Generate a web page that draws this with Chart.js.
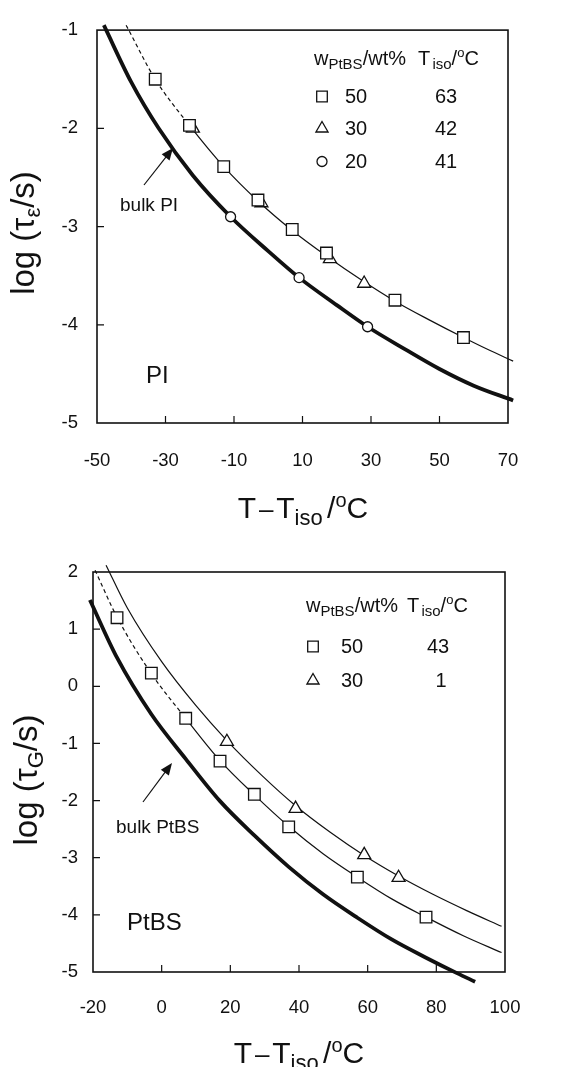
<!DOCTYPE html>
<html lang="en">
<head>
<meta charset="UTF-8">
<title>log tau vs T - Tiso</title>
<script src="https://cdn.jsdelivr.net/npm/chart.js"></script>
<style>
  body { margin: 0; background: #fff; }
  .panel { position: absolute; left: 0; width: 574px; }
  #top { top: 0; height: 540px; }
  #bottom { top: 540px; height: 527px; }
</style>
</head>
<body>
<div class="panel" id="top"><canvas id="piChart"></canvas></div>
<div class="panel" id="bottom"><canvas id="ptbsChart"></canvas></div>

<script>
    // upper panel (PI)
    const piXTicks = [-50, -30, -10, 10, 30, 50, 70];
    const piYTicks = [-5, -4, -3, -2, -1];
    const piSquareX = [-33, -23, -13, -3, 7, 17, 37, 57];
    const piSquareY = [-1.50, -1.97, -2.39, -2.73, -3.03, -3.27, -3.75, -4.13];
    const piTriangleX = [-22, -2, 18, 28];
    const piTriangleY = [-2.00, -2.76, -3.33, -3.58];
    const piCircleX = [-11, 9, 29];
    const piCircleY = [-2.90, -3.52, -4.02];
    const piBlendCurveX = [-41.5, -33, -23, -13, -3, 7, 17, 27, 37, 47, 57, 64, 71.5];
    const piBlendCurveY = [-0.95, -1.50, -1.97, -2.39, -2.74, -3.04, -3.30, -3.54, -3.76, -3.95, -4.13, -4.25, -4.37];
    const piBulkCurveX = [-48, -40, -32, -22, -11, 0, 9, 20, 29, 40, 50, 60, 71.5];
    const piBulkCurveY = [-0.95, -1.53, -2.00, -2.48, -2.90, -3.25, -3.52, -3.80, -4.02, -4.25, -4.45, -4.62, -4.77];
    const piDashedUpTo = -23;
    const piLegendRows = [['50', '63'], ['30', '42'], ['20', '41']];

    // lower panel (PtBS)
    const ptbsXTicks = [-20, 0, 20, 40, 60, 80, 100];
    const ptbsYTicks = [-5, -4, -3, -2, -1, 0, 1, 2];
    const ptbsSquareX = [-13, -3, 7, 17, 27, 37, 57, 77];
    const ptbsSquareY = [1.20, 0.23, -0.56, -1.31, -1.89, -2.46, -3.34, -4.04];
    const ptbsTriangleX = [19, 39, 59, 69];
    const ptbsTriangleY = [-0.97, -2.14, -2.95, -3.35];
    const ptbs50CurveX = [-19.4, -13, -3, 7, 17, 27, 37, 47, 57, 67, 77, 88, 99];
    const ptbs50CurveY = [2.03, 1.21, 0.22, -0.56, -1.30, -1.90, -2.45, -2.93, -3.34, -3.72, -4.04, -4.37, -4.66];
    const ptbs30CurveX = [-16.2, -10, 0, 10, 19, 29, 39, 49, 59, 69, 79, 89, 99];
    const ptbs30CurveY = [2.12, 1.37, 0.43, -0.34, -0.95, -1.55, -2.09, -2.55, -2.96, -3.32, -3.64, -3.93, -4.20];
    const ptbsBulkCurveX = [-20.9, -13, -3, 7, 17, 27, 37, 47, 57, 67, 77, 86, 91.3];
    const ptbsBulkCurveY = [1.51, 0.50, -0.49, -1.27, -2.01, -2.61, -3.16, -3.64, -4.05, -4.43, -4.75, -5.02, -5.17];
    const ptbsDashedUpTo = 7;
    const ptbsLegendRows = [['50', '43'], ['30', '1']];

    const FONT = '"Liberation Sans", Arial, sans-serif';
    const INK = '#111';
    Chart.defaults.font.family = FONT;
    Chart.defaults.color = INK;

    function pts(xs, ys) {
        return xs.map((x, i) => ({ x: x, y: ys[i] }));
    }

    function markerSet(xs, ys, style, r) {
        return {
            data: pts(xs, ys), showLine: false, pointStyle: style, pointRadius: r,
            pointBackgroundColor: '#fff', pointBorderColor: INK, pointBorderWidth: 1.3,
            order: 0, clip: false
        };
    }

    function curveSet(xs, ys, width, dashUpTo) {
        const ds = {
            data: pts(xs, ys), showLine: true, pointRadius: 0, borderColor: INK,
            borderWidth: width, cubicInterpolationMode: 'monotone', order: 1, clip: false
        };
        if (dashUpTo !== undefined) {
            ds.segment = { borderDash: c => c.p1.parsed.x <= dashUpTo ? [4, 3] : undefined };
        }
        return ds;
    }

    // text made of pieces: [text, size, dy]
    function drawParts(ctx, parts, x, y, align) {
        let w = 0;
        parts.forEach(p => { ctx.font = p[1] + 'px ' + FONT; w += ctx.measureText(p[0]).width; });
        let cx = align === 'center' ? x - w / 2 : x;
        ctx.textAlign = 'left';
        ctx.textBaseline = 'alphabetic';
        parts.forEach(p => {
            ctx.font = p[1] + 'px ' + FONT;
            ctx.fillText(p[0], cx, y + (p[2] || 0));
            cx += ctx.measureText(p[0]).width;
        });
    }

    function drawArrow(ctx, x0, y0, x1, y1) {
        const ang = Math.atan2(y1 - y0, x1 - x0);
        const len = 12, half = 5;
        ctx.lineWidth = 1.2;
        ctx.beginPath();
        ctx.moveTo(x0, y0);
        ctx.lineTo(x1 - Math.cos(ang) * len * 0.8, y1 - Math.sin(ang) * len * 0.8);
        ctx.stroke();
        ctx.beginPath();
        ctx.moveTo(x1, y1);
        ctx.lineTo(x1 - Math.cos(ang) * len - Math.sin(ang) * half, y1 - Math.sin(ang) * len + Math.cos(ang) * half);
        ctx.lineTo(x1 - Math.cos(ang) * len + Math.sin(ang) * half, y1 - Math.sin(ang) * len - Math.cos(ang) * half);
        ctx.closePath();
        ctx.fill();
    }

    function legendMarker(ctx, style, r, x, y) {
        ctx.fillStyle = '#fff';
        ctx.strokeStyle = INK;
        ctx.lineWidth = 1.3;
        Chart.helpers.drawPoint(ctx, { pointStyle: style, radius: r, rotation: 0, borderWidth: 1.3 }, x, y);
        ctx.fillStyle = INK;
    }

    function panelPlugin(draw) {
        return {
            id: 'panel',
            beforeDatasetsDraw(chart) {
                const ctx = chart.ctx, a = chart.chartArea, sx = chart.scales.x, sy = chart.scales.y;
                ctx.save();
                ctx.strokeStyle = INK;
                ctx.lineWidth = 1.6;
                ctx.strokeRect(a.left, a.top, a.right - a.left, a.bottom - a.top);
                ctx.lineWidth = 1.2;
                ctx.beginPath();
                sx.ticks.forEach(t => {
                    const px = sx.getPixelForValue(t.value);
                    if (px > a.left + 2 && px < a.right - 2) { ctx.moveTo(px, a.bottom); ctx.lineTo(px, a.bottom - 7); }
                });
                sy.ticks.forEach(t => {
                    const py = sy.getPixelForValue(t.value);
                    if (py > a.top + 2 && py < a.bottom - 2) { ctx.moveTo(a.left, py); ctx.lineTo(a.left + 7, py); }
                });
                ctx.stroke();
                ctx.restore();
            },
            afterDraw(chart) {
                const ctx = chart.ctx;
                ctx.save();
                ctx.fillStyle = INK;
                ctx.strokeStyle = INK;
                draw(ctx, chart);
                ctx.restore();
            }
        };
    }

    function scaleOpts(min, max, ticks, pad, fitKey, fitVal) {
        return {
            type: 'linear', min: min, max: max,
            afterBuildTicks: s => { s.ticks = ticks.map(v => ({ value: v })); },
            afterFit: s => { s[fitKey] = fitVal; },
            grid: { display: false, drawTicks: false },
            border: { display: false },
            ticks: { padding: pad, font: { size: 18.5 }, color: INK, maxRotation: 0, autoSkip: false, callback: v => String(v) }
        };
    }

    function makeChart(id, datasets, xs, ys, padding, plugin) {
        return new Chart(document.getElementById(id), {
            type: 'scatter',
            data: { datasets: datasets },
            options: {
                responsive: true, maintainAspectRatio: false, animation: false,
                layout: { padding: padding },
                plugins: { legend: { display: false }, tooltip: { enabled: false } },
                scales: { x: xs, y: ys }
            },
            plugins: [plugin]
        });
    }

    const yTitleTau = sub => [['log (', 33], ['τ', 33], [sub, 22, 6], ['/s)', 33]];
    const xTitle = [['T', 30], [' ', 10], ['–', 26], [' ', 10], ['T', 30], ['iso', 22, 7], [' ', 16], ['/', 30], ['o', 20, -11], ['C', 30]];
    const headW = [['w', 20], ['PtBS', 15, 4], ['/wt%', 20]];
    const headT = [['T', 20], [' ', 8], ['iso', 15, 4], ['/', 20], ['o', 13, -8], ['C', 20]];

    // upper panel
    makeChart('piChart', [
        markerSet(piSquareX, piSquareY, 'rect', 8.2),
        markerSet(piTriangleX, piTriangleY, 'triangle', 7.5),
        markerSet(piCircleX, piCircleY, 'circle', 5),
        curveSet(piBlendCurveX, piBlendCurveY, 1.2, piDashedUpTo),
        curveSet(piBulkCurveX, piBulkCurveY, 3.8)
    ],
        scaleOpts(-50, 70, piXTicks, 27, 'height', 117),
        scaleOpts(-5, -1, piYTicks, 19, 'width', 97),
        { left: 0, right: 66, top: 22, bottom: 0 },
        panelPlugin((ctx, chart) => {
            drawParts(ctx, xTitle, 303, 518, 'center');
            ctx.save();
            ctx.translate(34, 233);
            ctx.rotate(-Math.PI / 2);
            drawParts(ctx, yTitleTau('ε'), 0, 0, 'center');
            ctx.restore();

            drawParts(ctx, headW, 314, 65);
            drawParts(ctx, headT, 418, 65);
            const styles = [['rect', 7.5], ['triangle', 7], ['circle', 5]];
            const rowY = [103, 135, 168];
            piLegendRows.forEach((row, i) => {
                legendMarker(ctx, styles[i][0], styles[i][1], 322, rowY[i] - 6.5);
                ctx.font = '20px ' + FONT;
                ctx.textAlign = 'center';
                ctx.fillText(row[0], 356, rowY[i]);
                ctx.fillText(row[1], 446, rowY[i]);
            });

            drawParts(ctx, [['bulk PI', 19]], 120, 211);
            drawArrow(ctx, 144, 185, 173, 148);
            drawParts(ctx, [['PI', 24]], 146, 383);
        })
    );

    // lower panel
    makeChart('ptbsChart', [
        markerSet(ptbsSquareX, ptbsSquareY, 'rect', 8.2),
        markerSet(ptbsTriangleX, ptbsTriangleY, 'triangle', 7.5),
        curveSet(ptbs30CurveX, ptbs30CurveY, 1.2),
        curveSet(ptbs50CurveX, ptbs50CurveY, 1.2, ptbsDashedUpTo),
        curveSet(ptbsBulkCurveX, ptbsBulkCurveY, 3.8)
    ],
        scaleOpts(-20, 100, ptbsXTicks, 25, 'height', 95),
        scaleOpts(-5, 2, ptbsYTicks, 15, 'width', 93),
        { left: 0, right: 69, top: 32, bottom: 0 },
        panelPlugin((ctx, chart) => {
            drawParts(ctx, xTitle, 299, 523, 'center');
            ctx.save();
            ctx.translate(37, 240);
            ctx.rotate(-Math.PI / 2);
            drawParts(ctx, yTitleTau('G'), 0, 0, 'center');
            ctx.restore();

            drawParts(ctx, headW, 306, 72);
            drawParts(ctx, headT, 407, 72);
            const styles = [['rect', 7.5], ['triangle', 7]];
            const rowY = [113, 147];
            ptbsLegendRows.forEach((row, i) => {
                legendMarker(ctx, styles[i][0], styles[i][1], 313, rowY[i] - 6.5);
                ctx.font = '20px ' + FONT;
                ctx.textAlign = 'center';
                ctx.fillText(row[0], 352, rowY[i]);
                ctx.fillText(row[1], row[1].length > 1 ? 438 : 441, rowY[i]);
            });

            drawParts(ctx, [['bulk PtBS', 19]], 116, 293);
            drawArrow(ctx, 143, 262, 172, 223);
            drawParts(ctx, [['PtBS', 24]], 127, 390);
        })
    );
</script>
</body>
</html>
